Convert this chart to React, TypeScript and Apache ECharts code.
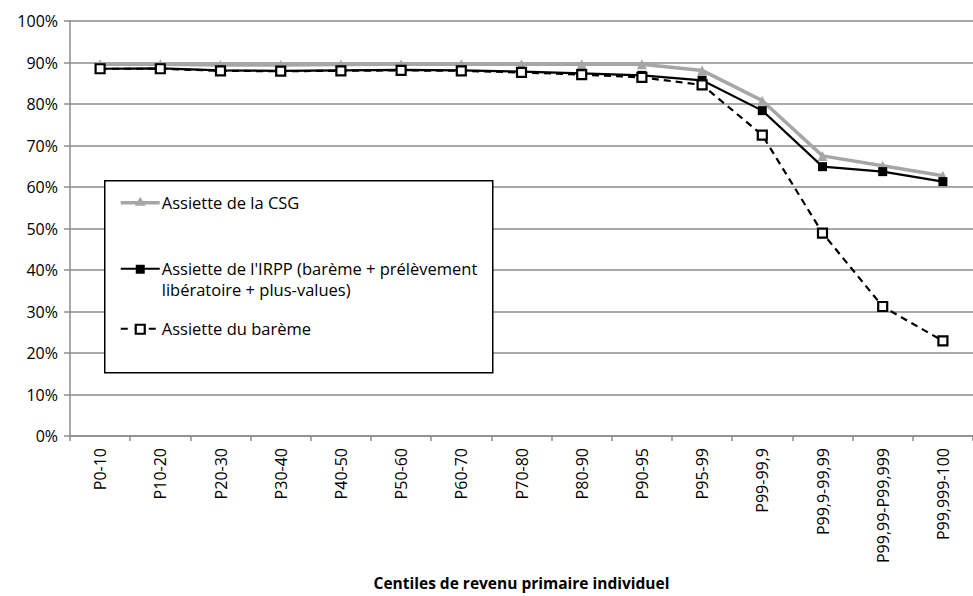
import React, { useEffect, useRef } from "react";
import * as echarts from "echarts";

const categories = [
  "P0-10", "P10-20", "P20-30", "P30-40", "P40-50", "P50-60", "P60-70", "P70-80",
  "P80-90", "P90-95", "P95-99", "P99-99,9", "P99,9-99,99", "P99,99-P99,999", "P99,999-100",
];
const csg = [89.6, 89.6, 89.4, 89.4, 89.5, 89.6, 89.6, 89.6, 89.6, 89.6, 88.1, 80.8, 67.5, 65.1, 62.7];
const irpp = [88.5, 88.6, 88.1, 88.0, 88.1, 88.2, 88.1, 87.8, 87.4, 86.9, 85.7, 78.4, 64.9, 63.7, 61.3];
const bareme = [88.5, 88.5, 88.0, 87.9, 88.0, 88.1, 88.0, 87.6, 87.1, 86.4, 84.6, 72.5, 48.9, 31.2, 22.9];
const seriesNames = [
  "Assiette de la CSG",
  "Assiette de l'IRPP (barème + prélèvement\nlibératoire + plus-values)",
  "Assiette du barème",
];
const xTitle = "Centiles de revenu primaire individuel";

const FONT = "'Open Sans', 'Noto Sans', sans-serif";

export default function App() {
  const ref = useRef<HTMLDivElement>(null);
  useEffect(() => {
    document.body.style.margin = "0";
    const chart = echarts.init(ref.current!, null, { renderer: "svg" });
    const textStyle = { fontFamily: FONT, fontSize: 16.5, fill: "#000" };
    chart.setOption({
      animation: false,
      backgroundColor: "#fff",
      textStyle: { fontFamily: FONT },
      grid: { left: 70, top: 21, width: 907, height: 425 },
      xAxis: {
        type: "category",
        data: categories,
        boundaryGap: true,
        axisLine: { lineStyle: { color: "#8c8c8c", width: 1.5 } },
        axisTick: { show: true, length: 5, alignWithLabel: false, lineStyle: { color: "#8c8c8c", width: 1.5 } },
        axisLabel: { rotate: 90, margin: 12, fontSize: 16, color: "#000", fontFamily: FONT, interval: 0 },
        name: xTitle,
        nameLocation: "middle",
        nameGap: 139,
        nameTextStyle: { fontSize: 15.5, fontWeight: "bold", color: "#000", fontFamily: FONT },
      },
      yAxis: {
        type: "value",
        min: 0,
        max: 100,
        interval: 10,
        axisLine: { show: true, lineStyle: { color: "#8c8c8c", width: 1.5 } },
        axisTick: { show: true, length: 6, lineStyle: { color: "#8c8c8c", width: 1.5 } },
        axisLabel: { formatter: "{value}%", fontSize: 16, color: "#000", fontFamily: FONT, margin: 12 },
        splitLine: { lineStyle: { color: "#8c8c8c", width: 1.5 } },
      },
      series: [
        {
          name: seriesNames[0],
          type: "line",
          data: csg,
          symbol: "triangle",
          symbolSize: 10,
          lineStyle: { color: "#a6a6a6", width: 3.5 },
          itemStyle: { color: "#a6a6a6" },
          z: 2,
        },
        {
          name: seriesNames[1],
          type: "line",
          data: irpp,
          symbol: "rect",
          symbolSize: 9,
          lineStyle: { color: "#000", width: 2.2 },
          itemStyle: { color: "#000" },
          z: 3,
        },
        {
          name: seriesNames[2],
          type: "line",
          data: bareme,
          symbol: "rect",
          symbolSize: 9,
          showAllSymbol: true,
          lineStyle: { color: "#000", width: 2.2, type: [7, 5] },
          itemStyle: { color: "#fff", borderColor: "#000", borderWidth: 2.2 },
          z: 4,
        },
      ],
      graphic: [
        {
          type: "group",
          left: 104,
          top: 180,
          z: 100,
          children: [
            { type: "rect", z: 100, shape: { x: 0, y: 0, width: 388, height: 192 }, style: { fill: "#fff", stroke: "#000", lineWidth: 1.5 } },
            { type: "line", z: 101, shape: { x1: 16, y1: 22, x2: 55, y2: 22 }, style: { stroke: "#a6a6a6", lineWidth: 3.5 } },
            { type: "polygon", z: 102, shape: { points: [[35.5, 16], [41, 25], [30, 25]] }, style: { fill: "#a6a6a6" } },
            { type: "text", z: 101, x: 57, y: 22, style: { ...textStyle, text: seriesNames[0], verticalAlign: "middle" } },
            { type: "line", z: 101, shape: { x1: 16, y1: 88, x2: 55, y2: 88 }, style: { stroke: "#000", lineWidth: 2.2 } },
            { type: "rect", z: 102, shape: { x: 31, y: 84, width: 9, height: 9 }, style: { fill: "#000" } },
            { type: "text", z: 101, x: 57, y: 77, style: { ...textStyle, text: seriesNames[1], verticalAlign: "top", lineHeight: 21 } },
            { type: "line", z: 101, shape: { x1: 16, y1: 148, x2: 55, y2: 148 }, style: { stroke: "#000", lineWidth: 2.2, lineDash: [7, 7] } },
            { type: "rect", z: 102, shape: { x: 31, y: 144, width: 9, height: 9 }, style: { fill: "#fff", stroke: "#000", lineWidth: 2.2 } },
            { type: "text", z: 101, x: 57, y: 148, style: { ...textStyle, text: seriesNames[2], verticalAlign: "middle" } },
          ],
        },
      ],
    });
    return () => chart.dispose();
  }, []);
  return <div ref={ref} style={{ width: 973, height: 596 }} />;
}
